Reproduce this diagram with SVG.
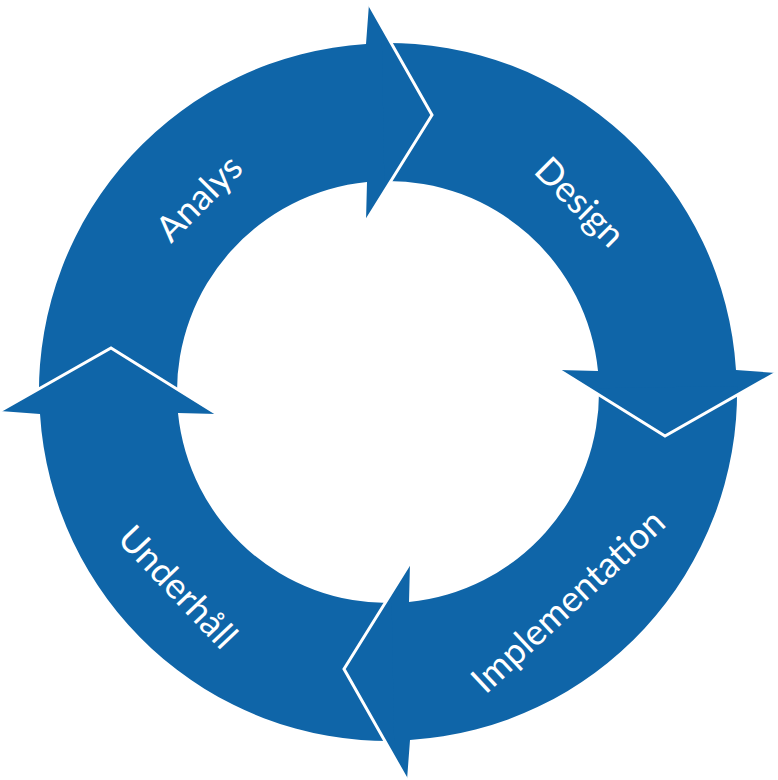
<svg xmlns="http://www.w3.org/2000/svg" xmlns:xlink="http://www.w3.org/1999/xlink" width="778" height="780" viewBox="0 0 778 780">
<style>
.seg{fill:#0F65A8;stroke:none}
.sep{fill:none;stroke:#ffffff;stroke-width:3;stroke-linejoin:miter}
.lbl{font-family:"Lato","Liberation Sans",sans-serif;font-size:36px;fill:#ffffff;text-anchor:middle;dominant-baseline:central}
</style>
<defs>
<path id="arrowShape" d="M38.95,398.1 A349,349 0 0 1 366,44 L369,4 L432,115 L366,221 L367,182 A211,211 0 0 0 177,395.7 Z"/>
<polyline id="headEdge" points="369,4 432,115 366,221"/>
</defs>
<rect width="778" height="780" fill="#ffffff"/>
<g id="analys">
<use xlink:href="#arrowShape" class="seg"/>
</g>
<g id="design">
<use xlink:href="#arrowShape" class="seg" transform="rotate(90 388 392)"/>
</g>
<g id="implementation">
<use xlink:href="#arrowShape" class="seg" transform="rotate(180 388 392)"/>
</g>
<g id="underhall">
<use xlink:href="#arrowShape" class="seg" transform="rotate(270 388 392)"/>
</g>
<g id="connectors">
<use xlink:href="#headEdge" class="sep"/>
<use xlink:href="#headEdge" class="sep" transform="rotate(90 388 392)"/>
<use xlink:href="#headEdge" class="sep" transform="rotate(180 388 392)"/>
<use xlink:href="#headEdge" class="sep" transform="rotate(270 388 392)"/>
</g>
<g id="labels">
<text class="lbl" transform="translate(198,197) rotate(-45)">Analys</text>
<text class="lbl" transform="translate(581,201) rotate(45)">Design</text>
<text class="lbl" transform="translate(567,600) rotate(-43)">Implementation</text>
<text class="lbl" transform="translate(179,586) rotate(46.5)">Underhåll</text>
</g>
</svg>
